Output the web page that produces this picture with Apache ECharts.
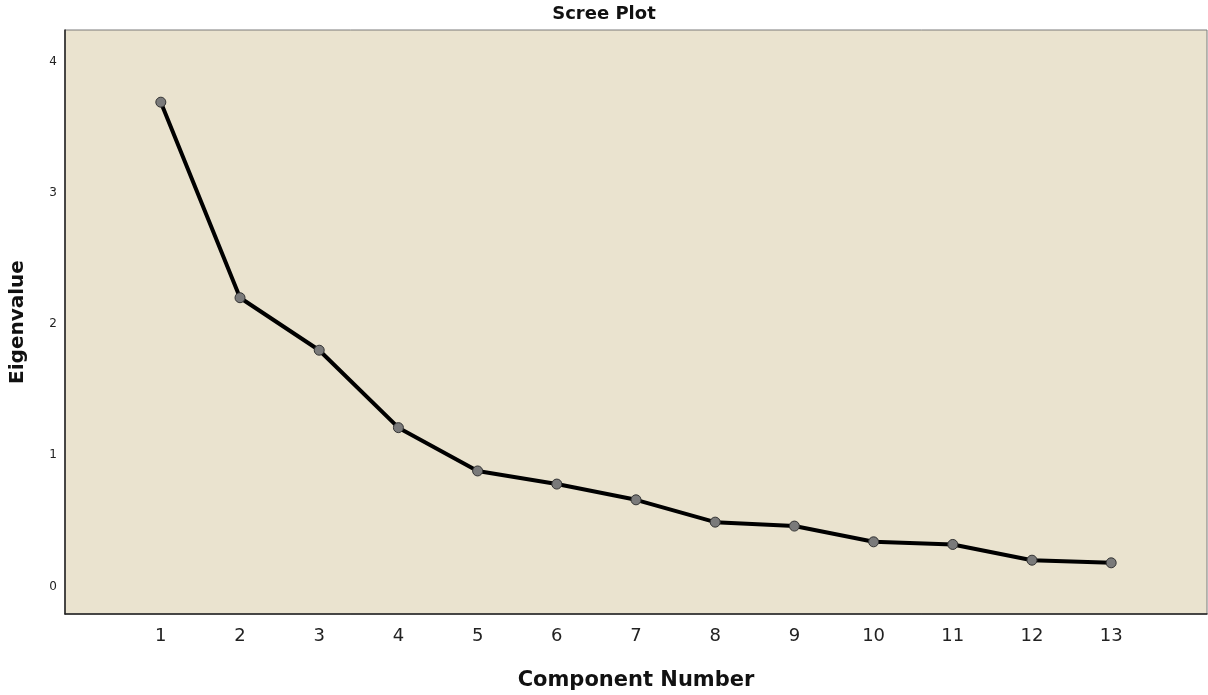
<!DOCTYPE html>
<html>
<head>
<meta charset="utf-8">
<script src="https://cdn.jsdelivr.net/npm/echarts@6/dist/echarts.min.js"></script>
<style>
html,body{margin:0;padding:0;background:#fff;}
#chart{width:1208px;height:695px;}
</style>
</head>
<body>
<div id="chart"></div>
<script>
const components = [1,2,3,4,5,6,7,8,9,10,11,12,13];
const eigenvalues = [3.69,2.20,1.80,1.21,0.88,0.78,0.66,0.49,0.46,0.34,0.32,0.20,0.18];
const yTicks = [0,1,2,3,4];

const chart = echarts.init(document.getElementById('chart'), null, {renderer:'canvas'});
const font = '"DejaVu Sans", sans-serif';
chart.setOption({
  animation:false,
  title:{text:'Scree Plot',left:'center',top:0,textStyle:{fontFamily:font,fontSize:18,fontWeight:'bold',color:'#111'}},
  grid:{left:65,right:1,top:30,bottom:81,outerBoundsMode:'none',containLabel:false,show:true,backgroundColor:'#EAE3CF',borderColor:'#7a7a7a',borderWidth:1},
  xAxis:{
    type:'value',min:-0.21,max:14.21,
    name:'Component Number',nameLocation:'middle',nameGap:56,
    nameTextStyle:{fontFamily:font,fontSize:21,fontWeight:'bold',color:'#111'},
    axisLine:{show:true,onZero:false,lineStyle:{color:'#222',width:1.5}},
    axisTick:{show:false},
    splitLine:{show:false},
    axisLabel:{customValues:components,fontFamily:font,fontSize:18,color:'#222',margin:13}
  },
  yAxis:{
    type:'value',min:-0.21,max:4.24,
    name:'Eigenvalue',nameLocation:'middle',nameGap:37,nameRotate:90,
    nameTextStyle:{fontFamily:font,fontSize:20,fontWeight:'bold',color:'#111'},
    axisLine:{show:true,onZero:false,lineStyle:{color:'#222',width:1.5}},
    axisTick:{show:false},
    splitLine:{show:false},
    axisLabel:{customValues:yTicks,fontFamily:font,fontSize:12,color:'#222',margin:8}
  },
  series:[{
    type:'line',
    data:components.map((c,i)=>[c,eigenvalues[i]]),
    lineStyle:{color:'#000',width:4},
    symbol:'circle',symbolSize:10,
    itemStyle:{color:'#7a7a7a',borderColor:'#333',borderWidth:1}
  }]
});
</script>
</body>
</html>
